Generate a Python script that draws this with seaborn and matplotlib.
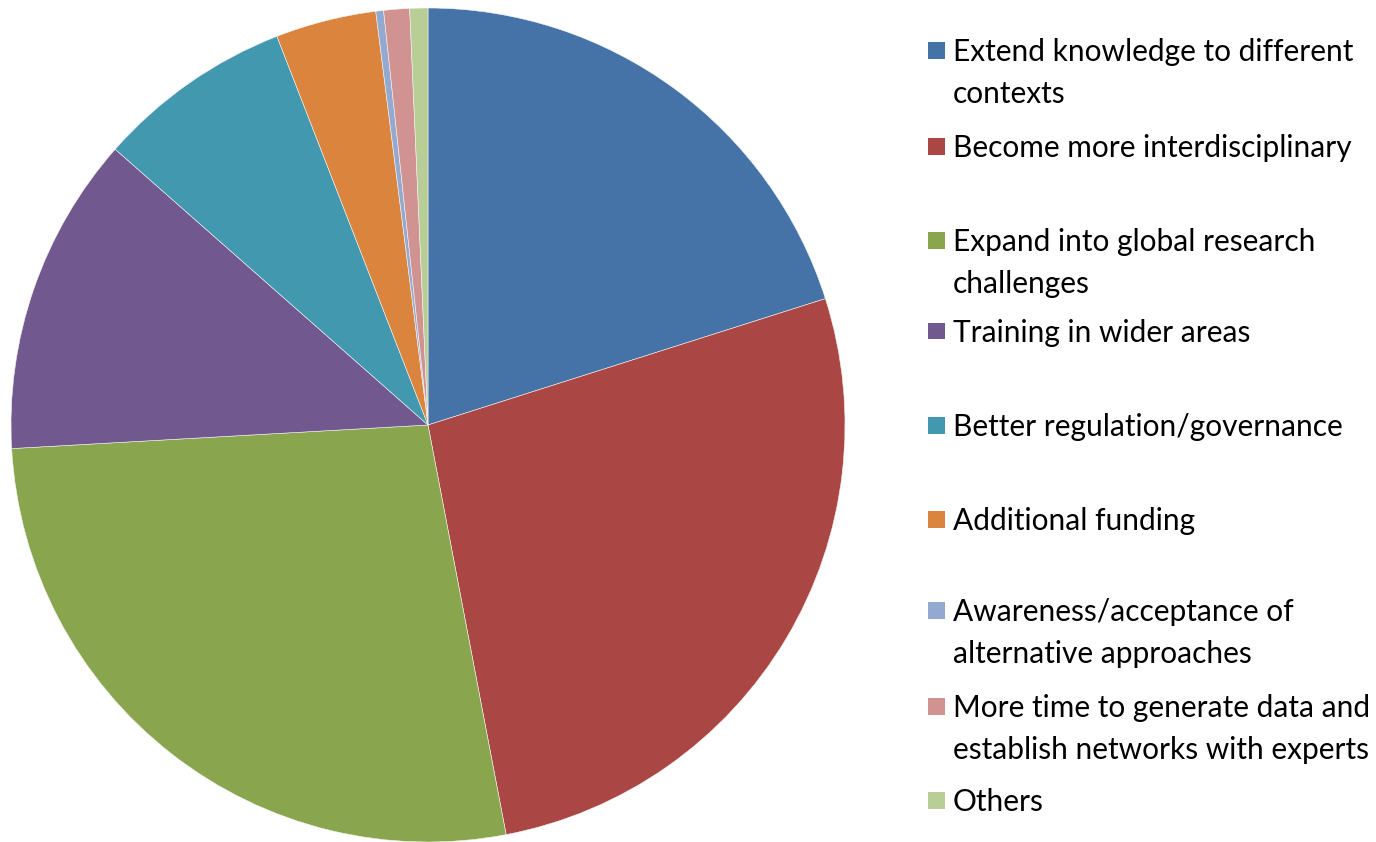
import matplotlib

matplotlib.use("Agg")
import matplotlib.pyplot as plt
import seaborn as sns
from matplotlib.patches import Rectangle

CATEGORIES = [
    "Extend knowledge to different\ncontexts",
    "Become more interdisciplinary",
    "Expand into global research\nchallenges",
    "Training in wider areas",
    "Better regulation/governance",
    "Additional funding",
    "Awareness/acceptance of\nalternative approaches",
    "More time to generate data and\nestablish networks with experts",
    "Others",
]
SHARES = [20.1, 26.9, 27.1, 12.4, 7.6, 3.9, 0.3, 1.0, 0.7]
COLORS = [
    "#4572A7", "#AA4643", "#89A54E", "#71588F", "#4198AF",
    "#DB843D", "#93A9CF", "#D19392", "#B9CD96",
]
# y of the first text line of each legend entry, in pixels from the top
LEGEND_Y = [50, 146, 240, 331, 425, 519, 610, 706, 800]

W, H = 1376, 842
sns.set_style("white")
plt.rcParams["font.family"] = ["Lato", "DejaVu Sans"]

fig = plt.figure(figsize=(W / 100, H / 100), dpi=100)
cx, cy, r = 428, 425, 417
ax = fig.add_axes([(cx - r) / W, (H - cy - r) / H, 2 * r / W, 2 * r / H])
ax.pie(
    SHARES,
    colors=COLORS,
    startangle=90,
    counterclock=False,
    radius=1,
    wedgeprops={"linewidth": 0.4, "edgecolor": "#f4f4f4"},
)
ax.set_xlim(-1, 1)
ax.set_ylim(-1, 1)
ax.set_aspect("equal")
ax.axis("off")

sq = 17
for label, color, y in zip(CATEGORIES, COLORS, LEGEND_Y):
    fig.patches.append(
        Rectangle(
            (928 / W, (H - y - sq / 2) / H), sq / W, sq / H,
            transform=fig.transFigure, facecolor=color, edgecolor="none",
        )
    )
    fig.text(
        953 / W, (H - y + 12) / H, label,
        ha="left", va="top", fontsize=21.5, color="#000000",
        linespacing=1.62,
    )

fig.savefig("out.png", dpi=100)
